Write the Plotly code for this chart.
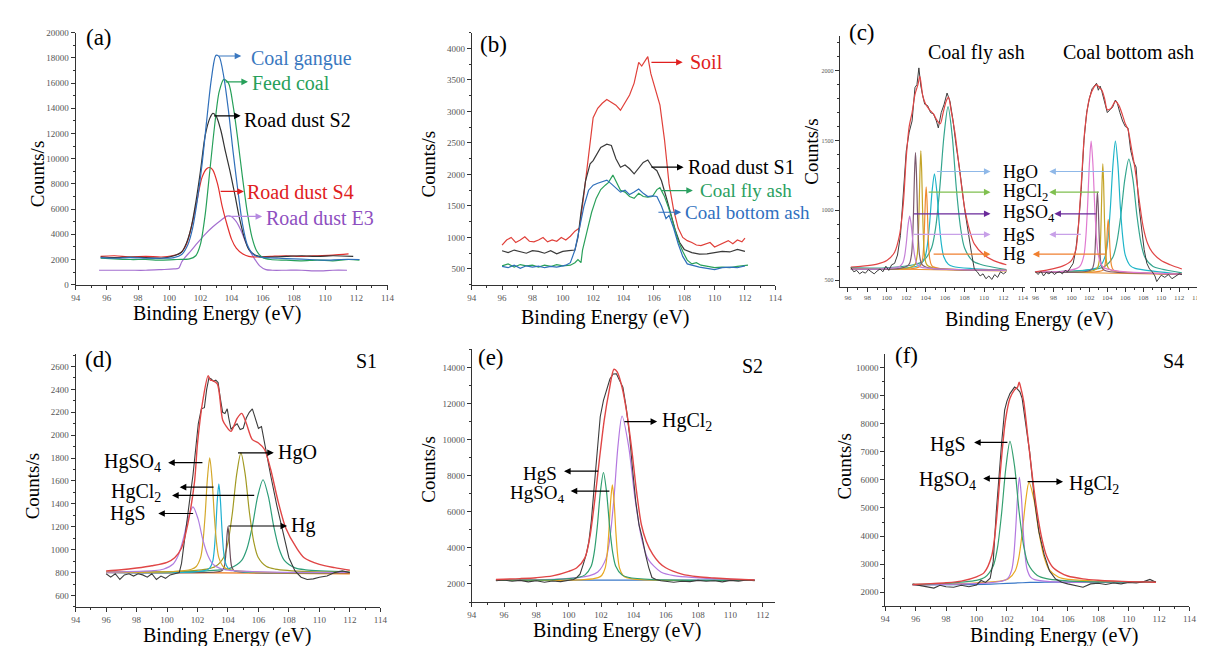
import plotly.graph_objects as go

W, H = 1205, 646
SERIF = "Liberation Serif"

# ---------------- data: panel (a) ----------------
A_GANGUE = [(95.6,2150),(96.5,2100),(97.5,2150),(98.5,2100),(99.5,2100),(100.3,2150),(100.8,2400),(101.2,3200),(101.5,4500),(101.8,6700),(102.1,9500),(102.4,13000),(102.7,16300),(103.0,18200),(103.2,18100),(103.5,16500),(103.8,13800),(104.1,10500),(104.4,7500),(104.7,4800),(105.0,3200),(105.4,2400),(105.8,2200),(106.2,2150),(107,2100),(108,2050),(109,2000),(110,1950),(111,2000),(112.2,2000)]
A_FEED = [(95.6,2100),(96.5,2050),(97.5,2000),(98.5,2000),(99.5,1950),(100.5,2000),(101.3,2050),(101.7,2300),(102.0,3200),(102.3,5500),(102.6,9000),(102.9,12500),(103.2,15300),(103.5,16300),(103.8,16000),(104.1,14200),(104.4,11500),(104.7,8500),(105.0,5800),(105.3,3800),(105.6,2700),(106.0,2150),(106.5,2000),(107.5,1950),(108.5,1900),(109.5,1950),(110.5,1900),(111.5,2000),(112.2,1950)]
A_S2 = [(95.6,2200),(96.5,2150),(97.5,2200),(98.5,2150),(99.5,2100),(100.3,2300),(100.8,2600),(101.1,3300),(101.4,4500),(101.7,6500),(102.0,9000),(102.3,11800),(102.6,13200),(102.8,13600),(103.0,13400),(103.3,12300),(103.6,10600),(103.9,9000),(104.2,7200),(104.5,5300),(104.8,3800),(105.1,2800),(105.5,2350),(106.0,2200),(106.5,2200),(107.5,2250),(108.5,2300),(109.5,2250),(110.5,2300),(111.8,2250)]
A_S4 = [(95.6,2250),(96.5,2300),(97.5,2200),(98.5,2250),(99.5,2200),(100.2,2300),(100.7,2500),(101.1,3200),(101.5,5000),(101.8,6800),(102.1,8500),(102.4,9200),(102.6,9300),(102.8,9100),(103.1,8000),(103.4,6200),(103.7,4800),(104.0,3600),(104.3,2900),(104.7,2450),(105.1,2250),(105.6,2200),(106.5,2250),(107.5,2300),(108.5,2250),(109.5,2300),(110.5,2350),(111.5,2450)]
A_E3 = [(95.5,1150),(96.5,1150),(97.5,1150),(98.5,1150),(99.5,1200),(100.3,1250),(100.6,1300),(100.8,1800),(101.0,2150),(101.4,2700),(101.8,3300),(102.3,4000),(102.8,4600),(103.3,5100),(103.7,5450),(104.0,5400),(104.3,5000),(104.6,4300),(105.0,3100),(105.4,2200),(105.8,1500),(106.2,1200),(106.6,1150),(107.5,1150),(108.5,1150),(109.5,1100),(110.5,1150),(111.4,1150)]

# ---------------- data: panel (b) ----------------
B_SOIL = [(96.0,880),(96.3,960),(96.6,1000),(96.9,920),(97.2,960),(97.5,1010),(97.8,940),(98.1,930),(98.4,960),(98.7,1000),(99.0,930),(99.3,960),(99.6,940),(99.9,1000),(100.2,960),(100.5,1020),(100.8,1100),(101.1,1150),(101.4,1700),(101.7,2300),(102.0,2900),(102.3,3050),(102.6,3130),(102.9,3190),(103.2,3150),(103.5,3100),(103.8,3020),(104.1,3150),(104.4,3260),(104.7,3450),(105.0,3780),(105.2,3720),(105.4,3800),(105.6,3870),(105.8,3600),(106.1,3350),(106.4,3100),(106.7,2550),(107.0,1850),(107.3,1440),(107.6,1150),(107.9,1000),(108.2,950),(108.5,920),(108.8,880),(109.1,870),(109.4,900),(109.7,920),(110.0,850),(110.3,880),(110.6,920),(110.9,950),(111.2,900),(111.5,960),(111.8,930),(112.0,990)]
B_S1 = [(96.0,790),(96.4,760),(96.8,800),(97.2,770),(97.6,750),(98.0,790),(98.4,780),(98.8,750),(99.2,790),(99.6,740),(100.0,780),(100.4,790),(100.8,800),(101.0,1000),(101.2,1400),(101.5,1900),(101.8,2170),(102.0,2220),(102.5,2430),(102.9,2480),(103.2,2460),(103.5,2250),(103.8,2115),(104.1,2150),(104.4,2090),(104.7,2010),(105.0,2110),(105.3,2190),(105.6,2230),(105.9,2115),(106.2,2060),(106.5,1900),(106.8,1650),(107.1,1390),(107.4,1125),(107.7,920),(108.0,810),(108.5,760),(109.0,735),(109.5,740),(110.0,760),(110.5,780),(111.0,770),(111.5,810),(112.0,780)]
B_FLY = [(96.0,550),(96.4,580),(96.8,530),(97.2,570),(97.6,550),(98.0,560),(98.4,530),(98.8,560),(99.2,540),(99.6,570),(100.0,550),(100.5,560),(100.8,600),(101.0,650),(101.2,600),(101.3,800),(101.6,1100),(101.9,1400),(102.2,1620),(102.5,1760),(102.8,1830),(103.0,1870),(103.3,1990),(103.5,1900),(103.8,1750),(104.1,1720),(104.4,1650),(104.7,1620),(105.0,1700),(105.3,1650),(105.6,1640),(105.9,1650),(106.2,1760),(106.4,1790),(106.7,1650),(107.0,1450),(107.3,1200),(107.6,950),(107.9,780),(108.2,640),(108.5,580),(108.8,600),(109.1,560),(109.5,540),(110.0,520),(110.5,530),(111.0,520),(111.5,540),(112.0,560),(112.2,560)]
B_BOTTOM = [(96.0,540),(96.4,520),(96.8,560),(97.2,510),(97.6,550),(98.0,530),(98.4,545),(98.8,520),(99.2,540),(99.6,530),(100.0,550),(100.2,560),(100.5,600),(100.8,800),(101.1,1150),(101.4,1500),(101.7,1750),(102.0,1830),(102.3,1860),(102.6,1880),(102.9,1910),(103.2,1850),(103.5,1780),(103.8,1720),(104.1,1750),(104.4,1680),(104.7,1720),(105.0,1770),(105.3,1700),(105.6,1650),(105.9,1660),(106.2,1650),(106.5,1500),(106.8,1300),(107.0,1350),(107.3,1150),(107.6,900),(107.9,700),(108.2,580),(108.5,560),(109.0,530),(109.5,510),(110.0,490),(110.5,520),(111.0,530),(111.5,520),(112.0,550)]

# ---------------- data: panel (c) coal fly ash ----------------
CL_RAW = [(96.3,590),(96.6,560),(96.9,570),(97.2,545),(97.5,560),(97.8,550),(98.1,575),(98.4,560),(98.7,545),(99.0,565),(99.3,580),(99.6,560),(99.9,600),(100.2,570),(100.5,610),(100.8,620),(101.1,680),(101.4,820),(101.7,1100),(102.0,1425),(102.3,1560),(102.6,1640),(102.9,1880),(103.1,1900),(103.3,2020),(103.5,1890),(103.7,1820),(103.9,1760),(104.2,1750),(104.5,1700),(104.8,1690),(105.1,1640),(105.3,1590),(105.6,1700),(105.9,1760),(106.2,1840),(106.5,1780),(106.8,1650),(107.1,1480),(107.5,1290),(108.0,1010),(108.4,820),(108.7,700),(109.0,580),(109.3,560),(109.6,530),(109.9,545),(110.2,510),(110.5,530),(110.8,505),(111.1,540),(111.4,520),(111.7,560),(112.0,545),(112.3,560)]
CL_ENV = [(96.3,594),(97.5,600),(99.0,615),(100.0,640),(100.8,700),(101.3,820),(101.7,1050),(102.0,1380),(102.3,1600),(102.6,1700),(102.9,1830),(103.2,1900),(103.4,1960),(103.7,1820),(104.0,1760),(104.4,1720),(104.8,1690),(105.2,1640),(105.5,1620),(105.8,1700),(106.1,1780),(106.35,1810),(106.6,1720),(107.0,1560),(107.5,1280),(108.0,1020),(108.5,860),(109.0,760),(110.0,680),(111.0,640),(112.3,610)]
CL_BASE_X = [96.3, 112.3]
CL_BASE_Y = [585, 565]
CL_HGS_X = [96.3, 99.63, 100.99, 101.33, 101.67, 101.84, 102.01, 102.18, 102.35, 102.52, 102.69, 102.86, 103.03, 103.37, 103.71, 105.07, 112.3]
CL_HGS_Y = [579, 581, 589, 597, 628, 676, 768, 890, 958, 890, 768, 676, 628, 597, 589, 581, 570]
CL_DARK_X = [96.3, 101.35, 102.15, 102.35, 102.55, 102.65, 102.75, 102.85, 102.95, 103.05, 103.15, 103.25, 103.35, 103.55, 103.75, 104.55, 112.3]
CL_DARK_Y = [579, 584, 603, 621, 688, 795, 996, 1264, 1414, 1264, 996, 795, 688, 621, 603, 584, 570]
CL_OLIVE_X = [96.3, 102.06, 102.78, 102.96, 103.14, 103.23, 103.32, 103.41, 103.5, 103.59, 103.68, 103.77, 103.86, 104.04, 104.22, 104.94, 112.3]
CL_OLIVE_Y = [579, 585, 603, 621, 689, 798, 1002, 1273, 1426, 1273, 1002, 798, 689, 621, 603, 585, 570]
CL_ORANGE_X = [96.3, 102.61, 103.33, 103.51, 103.69, 103.78, 103.87, 103.96, 104.05, 104.14, 104.23, 104.32, 104.41, 104.59, 104.77, 105.49, 112.3]
CL_ORANGE_Y = [579, 583, 595, 608, 655, 731, 873, 1062, 1168, 1062, 873, 731, 655, 608, 595, 583, 570]
CL_CYAN_X = [96.3, 101.06, 102.98, 103.46, 103.94, 104.18, 104.42, 104.66, 104.9, 105.14, 105.38, 105.62, 105.86, 106.34, 106.82, 108.74, 112.3]
CL_CYAN_Y = [579, 583, 598, 613, 668, 755, 920, 1139, 1262, 1139, 920, 755, 668, 613, 598, 583, 570]
CL_TEAL_X = [96.3, 99.5, 102.9, 103.75, 104.6, 105.03, 105.45, 105.88, 106.3, 106.73, 107.15, 107.58, 108.0, 108.85, 109.7, 112.3]
CL_TEAL_Y = [589, 587, 612, 637, 730, 879, 1160, 1532, 1742, 1532, 1160, 879, 730, 637, 612, 575]

# ---------------- data: panel (c) coal bottom ash ----------------
CR_RAW = [(96.0,560),(96.3,540),(96.6,565),(96.9,530),(97.2,555),(97.5,545),(97.8,560),(98.1,540),(98.4,555),(98.7,560),(99.0,545),(99.3,570),(99.6,560),(99.9,590),(100.2,620),(100.5,720),(100.8,900),(101.1,1150),(101.4,1500),(101.7,1700),(102.0,1800),(102.3,1870),(102.6,1900),(102.8,1910),(103.0,1860),(103.2,1890),(103.4,1850),(103.6,1800),(103.8,1760),(104.0,1700),(104.3,1720),(104.6,1740),(104.9,1790),(105.1,1770),(105.4,1700),(105.7,1640),(106.0,1600),(106.3,1590),(106.6,1430),(106.9,1350),(107.2,1310),(107.5,1050),(107.8,880),(108.1,720),(108.4,620),(108.7,580),(109.0,560),(109.3,530),(109.5,490),(109.7,510),(110.0,535),(110.4,520),(110.8,540),(111.2,510),(111.6,530),(112.0,545),(112.3,540)]
CR_ENV = [(96.0,560),(97.5,575),(99.0,600),(100.0,640),(100.5,720),(101.0,1090),(101.5,1580),(102.0,1800),(102.5,1880),(102.8,1900),(103.1,1880),(103.4,1860),(103.7,1800),(104.0,1720),(104.4,1730),(104.9,1780),(105.3,1750),(105.7,1680),(106.0,1620),(106.3,1580),(106.7,1440),(107.1,1290),(107.6,1050),(108.0,880),(108.5,760),(109.0,700),(110.0,640),(111.0,610),(112.3,580)]
CR_BASE_X = [96.0, 112.3]
CR_BASE_Y = [560, 540]
CR_HGS_X = [96.0, 99.0, 100.6, 101.0, 101.4, 101.6, 101.8, 102.0, 102.2, 102.4, 102.6, 102.8, 103.0, 103.4, 103.8, 105.4, 112.3]
CR_HGS_Y = [561, 563, 584, 604, 679, 799, 1026, 1327, 1496, 1327, 1026, 799, 679, 604, 584, 563, 543]
CR_DARK_X = [96.0, 101.46, 102.18, 102.36, 102.54, 102.63, 102.72, 102.81, 102.9, 102.99, 103.08, 103.17, 103.26, 103.44, 103.62, 104.34, 112.3]
CR_DARK_Y = [558, 560, 573, 585, 632, 705, 845, 1029, 1133, 1029, 845, 705, 632, 585, 573, 560, 543]
CR_OLIVE_X = [96.0, 102.06, 102.78, 102.96, 103.14, 103.23, 103.32, 103.41, 103.5, 103.59, 103.68, 103.77, 103.86, 104.04, 104.22, 104.94, 112.3]
CR_OLIVE_Y = [558, 562, 579, 596, 658, 757, 944, 1192, 1332, 1192, 944, 757, 658, 596, 579, 562, 543]
CR_ORANGE_X = [96.0, 102.66, 103.38, 103.56, 103.74, 103.83, 103.92, 104.01, 104.1, 104.19, 104.28, 104.37, 104.46, 104.64, 104.82, 105.54, 112.3]
CR_ORANGE_Y = [558, 559, 567, 575, 606, 654, 745, 866, 934, 866, 745, 654, 606, 575, 567, 559, 543]
CR_CYAN_X = [96.0, 100.5, 102.7, 103.25, 103.8, 104.08, 104.35, 104.63, 104.9, 105.18, 105.45, 105.73, 106.0, 106.55, 107.1, 109.3, 112.3]
CR_CYAN_Y = [560, 563, 584, 604, 679, 799, 1026, 1327, 1496, 1327, 1026, 799, 679, 604, 584, 563, 543]
CR_TEAL_X = [96.0, 99.2, 102.8, 103.7, 104.6, 105.05, 105.5, 105.95, 106.4, 106.85, 107.3, 107.75, 108.2, 109.1, 110.0, 112.3]
CR_TEAL_Y = [561, 562, 580, 597, 662, 766, 961, 1221, 1367, 1221, 961, 766, 662, 597, 580, 552]

# ---------------- data: panel (d) S1 ----------------
D_RAW = [(96.0,790),(96.3,760),(96.6,790),(96.9,740),(97.2,780),(97.5,790),(97.8,770),(98.1,790),(98.4,780),(98.7,760),(99.0,790),(99.3,740),(99.6,770),(99.9,750),(100.2,780),(100.5,790),(100.8,800),(100.95,880),(101.1,1050),(101.3,1250),(101.5,1450),(101.7,1650),(101.9,1900),(102.05,2100),(102.25,2230),(102.45,2240),(102.6,2400),(102.75,2500),(102.9,2490),(103.05,2470),(103.2,2480),(103.35,2460),(103.5,2320),(103.65,2200),(103.8,2190),(103.95,2230),(104.05,2150),(104.2,2050),(104.4,2080),(104.6,2100),(104.8,2050),(105.0,2060),(105.2,2150),(105.4,2200),(105.6,2230),(105.8,2150),(106.0,2060),(106.2,2075),(106.5,1850),(106.8,1650),(107.2,1390),(107.6,1160),(108.0,930),(108.4,815),(108.8,760),(109.2,740),(109.6,745),(110.0,760),(110.5,770),(111.0,800),(111.5,815),(112.0,800)]
D_ENV = [(96.0,815),(97.0,825),(98.0,840),(99.0,860),(100.0,890),(100.5,930),(100.95,1015),(101.35,1216),(101.8,1590),(102.0,1930),(102.35,2305),(102.7,2520),(102.85,2480),(103.0,2477),(103.3,2448),(103.65,2133),(103.9,2075),(104.2,2033),(104.6,2147),(104.9,2190),(105.2,2104),(105.6,1961),(106.0,1932),(106.4,1875),(106.8,1703),(107.3,1417),(107.8,1187),(108.5,1015),(109.0,930),(110.0,872),(111.0,843),(112.0,820)]
D_BASE_X = [96.0, 112.0]
D_BASE_Y = [805, 790]
D_HGS_X = [96.0, 96.5, 99.1, 99.75, 100.4, 100.73, 101.05, 101.38, 101.7, 102.03, 102.35, 102.68, 103.0, 103.65, 104.3, 106.9, 112.0]
D_HGS_Y = [803, 804, 817, 829, 875, 949, 1087, 1271, 1374, 1271, 1087, 949, 875, 829, 817, 804, 801]
D_HGSO4_X = [96.0, 100.4, 101.6, 101.9, 102.2, 102.35, 102.5, 102.65, 102.8, 102.95, 103.1, 103.25, 103.4, 103.7, 104.0, 105.2, 112.0]
D_HGSO4_Y = [802, 808, 829, 851, 931, 1060, 1302, 1622, 1803, 1622, 1302, 1060, 931, 851, 829, 808, 801]
D_HGCL2A_X = [96.0, 101.8, 102.6, 102.8, 103.0, 103.1, 103.2, 103.3, 103.4, 103.5, 103.6, 103.7, 103.8, 104.0, 104.2, 105.0, 112.0]
D_HGCL2A_Y = [801, 806, 823, 839, 901, 1000, 1187, 1435, 1574, 1435, 1187, 1000, 901, 839, 823, 806, 801]
D_HG_X = [96.0, 103.04, 103.52, 103.64, 103.76, 103.82, 103.88, 103.94, 104.0, 104.06, 104.12, 104.18, 104.24, 104.36, 104.48, 104.96, 112.0]
D_HG_Y = [800, 803, 812, 821, 853, 904, 1001, 1130, 1202, 1130, 1001, 904, 853, 821, 812, 803, 800]
D_HGO_X = [96.0, 100.37, 102.61, 103.17, 103.73, 104.01, 104.29, 104.57, 104.85, 105.13, 105.41, 105.69, 105.97, 106.53, 107.09, 109.33, 112.0]
D_HGO_Y = [802, 808, 831, 853, 937, 1071, 1323, 1658, 1846, 1658, 1323, 1071, 937, 853, 831, 808, 802]
D_HGCL2B_X = [96.0, 100.7, 103.5, 104.2, 104.9, 105.25, 105.6, 105.95, 106.3, 106.65, 107.0, 107.35, 107.7, 108.4, 109.1, 112.0]
D_HGCL2B_Y = [803, 806, 824, 841, 906, 1010, 1205, 1465, 1611, 1465, 1205, 1010, 906, 841, 824, 805]

# ---------------- data: panel (e) S2 ----------------
E_RAW = [(95.5,2180),(96,2220),(96.5,2150),(97,2200),(97.5,2120),(98,2180),(98.5,2100),(99,2170),(99.5,2130),(100,2200),(100.3,2250),(100.5,2360),(100.7,2540),(100.9,3090),(101.1,3700),(101.25,4360),(101.4,5500),(101.55,7090),(101.75,9450),(101.95,11270),(102.15,12180),(102.35,12730),(102.55,13360),(102.75,13640),(102.95,13650),(103.15,13270),(103.35,12910),(103.55,11820),(103.75,10360),(103.95,8360),(104.15,6550),(104.35,5270),(104.55,4550),(104.75,3640),(104.95,2910),(105.15,2360),(105.4,2250),(105.7,2180),(106,2150),(106.5,2100),(107,2150),(107.5,2130),(108,2200),(108.5,2150),(109,2180),(109.5,2120),(110,2200),(110.5,2160),(111,2220),(111.5,2180)]
E_ENV = [(95.5,2250),(97,2300),(98,2350),(99,2450),(100,2700),(100.5,2900),(101,3450),(101.3,4550),(101.6,6550),(101.9,8900),(102.2,11100),(102.5,12700),(102.8,13900),(103.0,13750),(103.3,12900),(103.6,11450),(103.9,9450),(104.2,7100),(104.5,5270),(104.8,4360),(105.2,3640),(105.6,3180),(106,2900),(107,2550),(108,2400),(109,2330),(110,2280),(111.5,2220)]
E_BASE_X = [95.5, 111.5]
E_BASE_Y = [2210, 2210]
E_HGS_X = [95.5, 99.11, 100.63, 101.01, 101.39, 101.58, 101.77, 101.96, 102.15, 102.34, 102.53, 102.72, 102.91, 103.29, 103.67, 105.19, 111.5]
E_HGS_Y = [2210, 2246, 2376, 2505, 2983, 3749, 5190, 7104, 8180, 7104, 5190, 3749, 2983, 2505, 2376, 2246, 2205]
E_HGSO4_X = [95.5, 100.94, 101.82, 102.04, 102.26, 102.37, 102.48, 102.59, 102.7, 102.81, 102.92, 103.03, 103.14, 103.36, 103.58, 104.46, 111.5]
E_HGSO4_Y = [2203, 2241, 2356, 2470, 2893, 3570, 4845, 6538, 7490, 6538, 4845, 3570, 2893, 2470, 2356, 2241, 2202]
E_HGCL2_X = [95.5, 99.3, 101.3, 101.8, 102.3, 102.55, 102.8, 103.05, 103.3, 103.7, 104.1, 104.5, 104.9, 105.7, 106.5, 109.7, 111.5]
E_HGCL2_Y = [2219, 2270, 2468, 2665, 3393, 4559, 6755, 9670, 11310, 9670, 6755, 4559, 3393, 2665, 2468, 2270, 2243]

# ---------------- data: panel (f) S4 ----------------
F_RAW = [(95.8,2290),(96.3,2240),(96.8,2200),(97.2,2150),(97.6,2250),(98,2200),(98.5,2180),(99,2250),(99.5,2200),(100,2260),(100.3,2420),(100.6,2350),(100.9,2500),(101.1,3100),(101.3,4860),(101.5,6400),(101.65,7300),(101.85,8480),(102.0,8800),(102.2,9070),(102.35,9200),(102.5,9300),(102.65,9250),(102.85,9130),(103.0,8900),(103.15,8370),(103.3,7800),(103.5,6970),(103.8,5330),(104.1,4160),(104.45,3340),(104.8,2760),(105.2,2470),(105.6,2360),(106,2300),(106.5,2250),(107,2180),(107.5,2300),(108,2320),(108.5,2280),(109,2330),(109.5,2300),(110,2350),(110.5,2330),(111,2380),(111.4,2460),(111.8,2360)]
F_ENV = [(95.8,2280),(97,2310),(98,2340),(99,2400),(100,2550),(100.5,2700),(101,3300),(101.3,4500),(101.6,6500),(101.9,8100),(102.2,8900),(102.5,9200),(102.7,9300),(102.8,9470),(102.9,9300),(103.1,8800),(103.4,7400),(103.7,6000),(104.0,4800),(104.3,3900),(104.6,3300),(105,2900),(105.5,2700),(106,2580),(107,2480),(108,2430),(109,2400),(110,2380),(111.8,2360)]
F_BASE_X = [95.8, 99.0, 100.5, 101.5, 102.5, 103.5, 104.5, 106.0, 111.8]
F_BASE_Y = [2260, 2270, 2285, 2305, 2330, 2350, 2360, 2360, 2360]
F_HGS_X = [95.8, 97.8, 100.0, 100.55, 101.1, 101.38, 101.65, 101.93, 102.2, 102.5, 102.8, 103.1, 103.4, 104.0, 104.6, 107.0, 111.8]
F_HGS_Y = [2280, 2314, 2424, 2534, 2939, 3588, 4810, 6432, 7370, 6497, 4875, 3653, 3004, 2599, 2489, 2379, 2365]
F_HGSO4_X = [95.8, 100.82, 101.82, 102.07, 102.32, 102.45, 102.57, 102.7, 102.82, 102.95, 103.07, 103.2, 103.32, 103.57, 103.82, 104.82, 111.8]
F_HGSO4_Y = [2265, 2339, 2421, 2503, 2805, 3289, 4200, 5410, 6090, 5410, 4200, 3289, 2830, 2530, 2450, 2380, 2362]
F_HGCL2_X = [95.8, 99.85, 101.65, 102.1, 102.55, 102.78, 103.0, 103.23, 103.45, 103.78, 104.1, 104.43, 104.75, 105.4, 106.05, 108.65, 111.8]
F_HGCL2_Y = [2265, 2328, 2405, 2483, 2770, 3228, 4092, 5239, 5914, 5294, 4147, 3283, 2825, 2538, 2460, 2383, 2365]

# ---------------- tick settings ----------------
X_TICK0, X_DTICK, X_MINOR = 94, 2, 1

fig = go.Figure()


def add(x, y, xa, ya, color, width=1.2, smooth=True):
    assert len(x) == len(y), (len(x), len(y))
    fig.add_trace(go.Scatter(
        x=x, y=y, xaxis=xa, yaxis=ya, mode="lines",
        line=dict(color=color, width=width,
                  shape="spline" if smooth else "linear",
                  smoothing=0.8 if smooth else None),
        hoverinfo="skip", showlegend=False))


def addp(pts, xa, ya, color, width=1.2, smooth=True):
    add([p[0] for p in pts], [p[1] for p in pts], xa, ya, color, width, smooth)


RAWC = "#3c3c3c"
ENVC = "#e04646"

# (a)
addp(A_E3, "x", "y", "#a46fd0")
addp(A_S4, "x", "y", "#e2302e")
addp(A_S2, "x", "y", "#333333")
addp(A_FEED, "x", "y", "#27a05a")
addp(A_GANGUE, "x", "y", "#2f6fba")

# (b)
addp(B_SOIL, "x2", "y2", "#e0403a", smooth=False)
addp(B_S1, "x2", "y2", "#3a3a3a", smooth=False)
addp(B_FLY, "x2", "y2", "#2aa05a", smooth=False)
addp(B_BOTTOM, "x2", "y2", "#2f6fba", smooth=False)

# (c) left
add(CL_BASE_X, CL_BASE_Y, "x3", "y3", "#e89030", 1.0, False)
add(CL_TEAL_X, CL_TEAL_Y, "x3", "y3", "#34a58e")
add(CL_CYAN_X, CL_CYAN_Y, "x3", "y3", "#1fb5c9")
add(CL_ORANGE_X, CL_ORANGE_Y, "x3", "y3", "#f08a30")
add(CL_OLIVE_X, CL_OLIVE_Y, "x3", "y3", "#c4a428")
add(CL_DARK_X, CL_DARK_Y, "x3", "y3", "#7b5a6e")
add(CL_HGS_X, CL_HGS_Y, "x3", "y3", "#c47fd6")
addp(CL_RAW, "x3", "y3", RAWC, 1.0, False)
addp(CL_ENV, "x3", "y3", ENVC, 1.2)
# (c) right
add(CR_BASE_X, CR_BASE_Y, "x4", "y3", "#e89030", 1.0, False)
add(CR_TEAL_X, CR_TEAL_Y, "x4", "y3", "#34a58e")
add(CR_CYAN_X, CR_CYAN_Y, "x4", "y3", "#1fb5c9")
add(CR_ORANGE_X, CR_ORANGE_Y, "x4", "y3", "#f08a30")
add(CR_OLIVE_X, CR_OLIVE_Y, "x4", "y3", "#c4a428")
add(CR_DARK_X, CR_DARK_Y, "x4", "y3", "#7b5a6e")
add(CR_HGS_X, CR_HGS_Y, "x4", "y3", "#e07ad0")
addp(CR_RAW, "x4", "y3", RAWC, 1.0, False)
addp(CR_ENV, "x4", "y3", ENVC, 1.2)

# (d)
add(D_BASE_X, D_BASE_Y, "x5", "y5", "#f07f20", 1.4, False)
add(D_HGCL2B_X, D_HGCL2B_Y, "x5", "y5", "#2f9e7a")
add(D_HGO_X, D_HGO_Y, "x5", "y5", "#a29a22")
add(D_HG_X, D_HG_Y, "x5", "y5", "#6a4c5a")
add(D_HGCL2A_X, D_HGCL2A_Y, "x5", "y5", "#1fb0d0")
add(D_HGSO4_X, D_HGSO4_Y, "x5", "y5", "#d4a82a")
add(D_HGS_X, D_HGS_Y, "x5", "y5", "#b07fe0")
addp(D_RAW, "x5", "y5", RAWC, 1.1, False)
addp(D_ENV, "x5", "y5", ENVC, 1.4)

# (e)
add(E_BASE_X, E_BASE_Y, "x6", "y6", "#3a78c8", 1.2, False)
add(E_HGCL2_X, E_HGCL2_Y, "x6", "y6", "#b478e0")
add(E_HGSO4_X, E_HGSO4_Y, "x6", "y6", "#e8a820")
add(E_HGS_X, E_HGS_Y, "x6", "y6", "#2e9e6e")
addp(E_RAW, "x6", "y6", RAWC, 1.1, False)
addp(E_ENV, "x6", "y6", ENVC, 1.4)

# (f)
add(F_BASE_X, F_BASE_Y, "x7", "y7", "#3a78c8", 1.2)
add(F_HGCL2_X, F_HGCL2_Y, "x7", "y7", "#e8a820")
add(F_HGSO4_X, F_HGSO4_Y, "x7", "y7", "#b478e0")
add(F_HGS_X, F_HGS_Y, "x7", "y7", "#35a070")
addp(F_RAW, "x7", "y7", RAWC, 1.1, False)
addp(F_ENV, "x7", "y7", ENVC, 1.4)


# ---------------- axes ----------------
def common(fs):
    return dict(showline=True, linecolor="#333", linewidth=1, ticks="outside",
                ticklen=4, tickwidth=1, tickcolor="#333", showgrid=False,
                zeroline=False, tickformat="d",
                tickfont=dict(family=SERIF, size=fs, color="#555"))


def xax(p0, p1, rng, anchor, fs=9):
    d = common(fs)
    d.update(domain=[p0 / W, p1 / W], range=rng, anchor=anchor,
             tick0=X_TICK0, dtick=X_DTICK,
             minor=dict(ticks="outside", ticklen=2, tick0=X_TICK0, dtick=X_MINOR,
                        tickcolor="#333", showgrid=False))
    return d


def yax(pb, pt, rng, anchor, tick0, dtick, mdtick, fs=9):
    d = common(fs)
    d.update(domain=[1 - pb / H, 1 - pt / H], range=rng, anchor=anchor,
             tick0=tick0, dtick=dtick,
             minor=dict(ticks="outside", ticklen=2, tick0=tick0, dtick=mdtick,
                        tickcolor="#333", showgrid=False))
    return d


layout = dict(
    width=W, height=H, margin=dict(l=0, r=0, t=0, b=0),
    paper_bgcolor="white", plot_bgcolor="white", showlegend=False,
    font=dict(family=SERIF),
    xaxis=xax(63.3, 378.3, [94, 114], "y"),
    yaxis=yax(276, 20, [0, 20000], "x", 0, 2000, 1000),
    xaxis2=xax(463.3, 770, [94, 114], "y2"),
    yaxis2=yax(276, 20, [250, 4250], "x2", 500, 500, 250),
    xaxis3=xax(835, 1021.7, [95.15, 114.17], "y3", fs=7),
    xaxis4=xax(1027.3, 1198.3, [95.4, 114.25], "y3", fs=7),
    yaxis3=yax(278, 23, [453, 2251], "x3", 500, 500, 100, fs=6),
    xaxis5=xax(63.3, 371, [94, 114], "y5"),
    yaxis5=yax(603.3, 346.7, [500, 2706], "x5", 600, 200, 100),
    xaxis6=xax(463.3, 770, [94, 112.78], "y6"),
    yaxis6=yax(598.3, 341.7, [1000, 15000], "x6", 2000, 2000, 1000),
    xaxis7=xax(881, 1188.3, [94, 114], "y7"),
    yaxis7=yax(602.7, 346, [1500, 10490], "x7", 2000, 1000, 500),
)

ann = []


def ptext(text, px, py, size=20, angle=0, color="black", xanchor="center"):
    ann.append(dict(text=text, x=px / W, y=1 - py / H, xref="paper", yref="paper",
                    xanchor=xanchor, yanchor="middle", showarrow=False, textangle=angle,
                    font=dict(family=SERIF, size=size, color=color)))


def dtext(text, x, y, xa, ya, xanchor="left", color="black", size=20):
    ann.append(dict(text=text, x=x, y=y, xref=xa, yref=ya, xanchor=xanchor,
                    yanchor="middle", showarrow=False,
                    font=dict(family=SERIF, size=size, color=color)))


def arrow(x0, y0, x1, y1, xa, ya, color="black"):
    ann.append(dict(text="", x=x1, y=y1, ax=x0, ay=y0, xref=xa, yref=ya,
                    axref=xa, ayref=ya, showarrow=True, arrowhead=2, arrowsize=1.1,
                    arrowwidth=1.2, arrowcolor=color, standoff=0, startstandoff=0))


# axis titles
for cx, cy in [(207, 305), (598, 309), (1027, 311), (217, 632), (611, 627), (1052, 632)]:
    ptext("Binding Energy (eV)", cx, cy, 20)
for cx, cy in [(25, 163), (420, 153), (807, 140), (20, 480), (420, 463), (840, 460)]:
    ptext("Counts/s", cx, cy, 19, angle=-90)

# panel letters
for t, cx, cy in [("(a)", 87, 25), ("(b)", 485, 32), ("(c)", 858, 20),
                  ("(d)", 86, 352), ("(e)", 483, 350), ("(f)", 902, 348)]:
    ptext(t, cx, cy, 23)

ptext("Coal fly ash", 973, 40, 20)
ptext("Coal bottom ash", 1127, 40, 20)
ptext("S1", 357, 353, 20)
ptext("S2", 747, 359, 20)
ptext("S4", 1172, 353, 20)

# (a) labels
for txt, tx, ty, x0, x1, ay, col, acol in [
        ("Coal gangue", 105.11, 17917, 103.1, 104.62, 18150, "#3a78c0", "#3a78c0"),
        ("Feed coal", 105.17, 16042, 103.52, 105.05, 16100, "#27a05a", "#27a05a"),
        ("Road dust S2", 104.65, 13099, 102.78, 104.58, 13400, "black", "black"),
        ("Road dust S4", 104.86, 7370, 103.2, 104.79, 7400, "#e02020", "#e02020"),
        ("Road dust E3", 106.1, 5286, 103.73, 105.96, 5417, "#8e4fc0", "#b58ae0")]:
    arrow(x0, ay, x1, ay, "x", "y", acol)
    dtext(txt, tx, ty, "x", "y", color=col)

# (b) labels
for txt, tx, ty, x0, x1, ay, col, fs in [
        ("Soil", 108.24, 3781, 105.74, 107.9, 3780, "#e02020", 20),
        ("Road dust S1", 108.13, 2115, 105.74, 107.96, 2115, "black", 20),
        ("Coal fly ash", 108.9, 1745, 106.4, 108.57, 1745, "#2aa060", 19),
        ("Coal bottom ash", 107.9, 1400, 106.2, 107.8, 1400, "#3070c0", 19)]:
    arrow(x0, ay, x1, ay, "x2", "y2", col)
    dtext(txt, tx, ty, "x2", "y2", color=col, size=fs)

# (c) labels and arrows
for txt, py, yv, xl, xr, xrtip, col in [
        ("HgO", 161, 1278, 105.0, 104.6, 97.54, "#8fb8e8"),
        ("HgCl<sub>2</sub>", 182, 1130, 104.15, 103.24, 97.54, "#80c050"),
        ("HgSO<sub>4</sub>", 204, 975, 102.62, 102.88, 98.1, "#6a2a9a"),
        ("HgS", 225, 827, 102.62, 101.22, 97.54, "#c8a0e8"),
        ("Hg", 245, 686, 104.66, 103.98, 95.7, "#f08030")]:
    arrow(xl, yv, 110.67, yv, "x3", "y3", col)
    arrow(xr, yv, xrtip, yv, "x4", "y3", col)
    ptext(txt, 998, py, 18, xanchor="left")

# (d) labels
arrow(102.42, 1760, 100.07, 1760, "x5", "y5")
dtext("HgSO<sub>4</sub>", 99.75, 1760, "x5", "y5", "right")
arrow(103.15, 1546, 100.83, 1546, "x5", "y5")
arrow(105.82, 1474, 100.33, 1474, "x5", "y5")
dtext("HgCl<sub>2</sub>", 99.75, 1503, "x5", "y5", "right")
arrow(101.81, 1316, 99.42, 1316, "x5", "y5")
dtext("HgS", 98.77, 1316, "x5", "y5", "right")
arrow(104.56, 1846, 107.01, 1846, "x5", "y5")
dtext("HgO", 107.12, 1846, "x5", "y5", "left")
arrow(103.93, 1207, 107.88, 1207, "x5", "y5")
dtext("Hg", 107.99, 1207, "x5", "y5", "left")

# (e) labels
arrow(103.35, 11000, 105.47, 11000, "x6", "y6")
dtext("HgCl<sub>2</sub>", 105.63, 11000, "x6", "y6", "left")
arrow(101.92, 8250, 99.71, 8250, "x6", "y6")
dtext("HgS", 99.41, 8150, "x6", "y6", "right", size=19)
arrow(102.61, 7150, 100.12, 7150, "x6", "y6")
dtext("HgSO<sub>4</sub>", 99.92, 7000, "x6", "y6", "right", size=19)

# (f) labels
arrow(102.13, 7330, 99.84, 7330, "x7", "y7")
dtext("HgS", 99.47, 7257, "x7", "y7", "right")
arrow(102.72, 6050, 100.44, 6050, "x7", "y7")
dtext("HgSO<sub>4</sub>", 100.12, 5972, "x7", "y7", "right")
arrow(103.26, 5937, 105.69, 5937, "x7", "y7")
dtext("HgCl<sub>2</sub>", 105.97, 5820, "x7", "y7", "left")

layout["annotations"] = ann
fig.update_layout(**layout)
fig.write_html("out.html")
